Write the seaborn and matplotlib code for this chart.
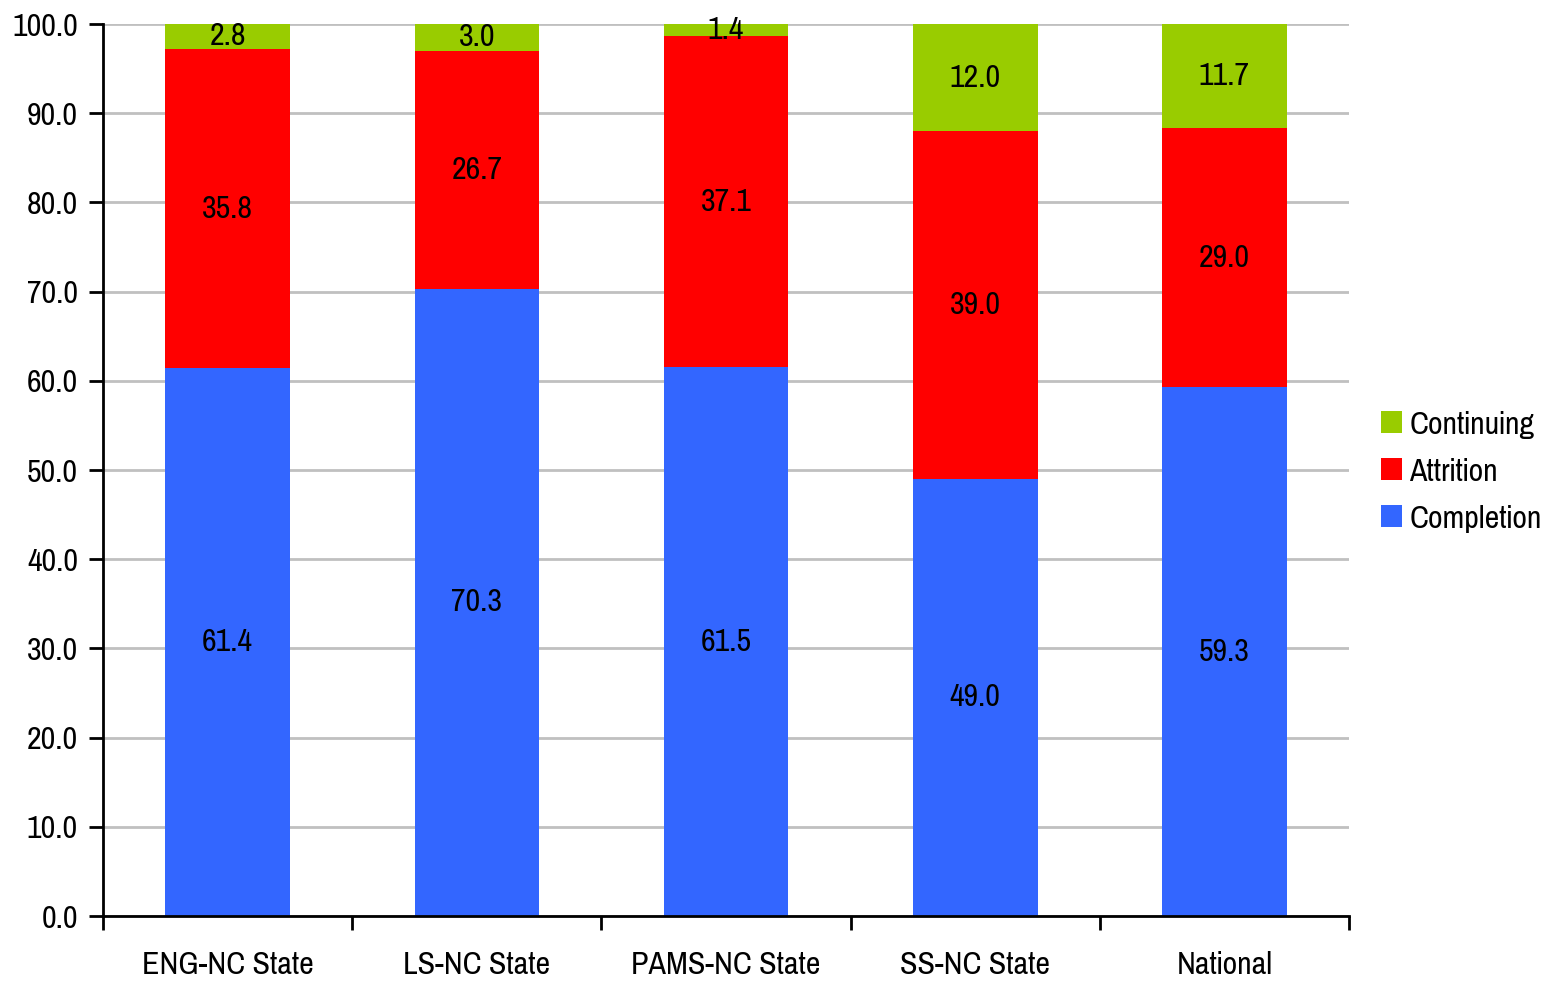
import matplotlib
matplotlib.use("Agg")
import matplotlib.pyplot as plt
from matplotlib.patches import Patch
from matplotlib import font_manager
import numpy as np
import seaborn as sns

categories = ["ENG-NC State", "LS-NC State", "PAMS-NC State", "SS-NC State", "National"]
completion = [61.4, 70.3, 61.5, 49.0, 59.3]
attrition = [35.8, 26.7, 37.1, 39.0, 29.0]
continuing = [2.8, 3.0, 1.4, 12.0, 11.7]
series_names = ["Completion", "Attrition", "Continuing"]
y_ticks = [0, 10, 20, 30, 40, 50, 60, 70, 80, 90, 100]

colors = {"Completion": "#3366FF", "Attrition": "#FF0000", "Continuing": "#99CC00"}

sns.set_theme(style="white")

# pick a narrow sans-serif face when one is installed
preferred = ["Liberation Sans Narrow", "Arial Narrow", "Nimbus Sans Narrow", "Pragati Narrow",
             "Archivo Narrow", "Roboto Condensed", "PT Sans Narrow", "IBM Plex Sans Condensed",
             "Liberation Sans"]
available = {f.name for f in font_manager.fontManager.ttflist}
chosen = [f for f in preferred if f in available][:1]
plt.rcParams["font.family"] = chosen + ["DejaVu Sans"]
plt.rcParams["text.color"] = "black"
plt.rcParams["xtick.color"] = "black"
plt.rcParams["ytick.color"] = "black"

FS = 25

fig = plt.figure(figsize=(15.49, 9.82), dpi=100)
ax = fig.add_axes([103 / 1549, 1 - 916 / 982, (1349 - 103) / 1549, (916 - 24) / 982])

series = {"Completion": completion, "Attrition": attrition, "Continuing": continuing}
bottom = np.zeros(len(categories))
for name in series_names:
    vals = np.array(series[name])
    sns.barplot(x=categories, y=vals, bottom=bottom, color=colors[name],
                width=0.5, saturation=1, ax=ax, zorder=3, linewidth=0)
    container = ax.containers[-1]
    ax.bar_label(container, labels=[f"{v:.1f}" for v in vals], label_type="center",
                 fontsize=FS, color="black", zorder=4)
    bottom = bottom + vals

ax.set_xlim(-0.5, len(categories) - 0.5)
ax.set_ylim(0, 100)
ax.set_yticks(y_ticks)
ax.set_yticklabels([f"{t:.1f}" for t in y_ticks], fontsize=FS)
ax.yaxis.grid(True, color="#C0C0C0", linewidth=2, zorder=0)
ax.xaxis.grid(False)
ax.set_axisbelow(True)

ax.set_xticks(range(len(categories)))
ax.set_xticklabels(categories, fontsize=FS)
ax.set_xticks(np.arange(-0.5, len(categories)), minor=True)
ax.tick_params(axis="x", which="major", length=0, pad=25, bottom=True, labelcolor="black")
ax.tick_params(axis="x", which="minor", length=10, width=2, color="black",
               direction="out", bottom=True)
ax.tick_params(axis="y", length=10, width=2, color="black", direction="out", pad=8,
               left=True, labelcolor="black")
ax.set_xlabel("")
ax.set_ylabel("")

for side in ["top", "right"]:
    ax.spines[side].set_visible(False)
for side in ["left", "bottom"]:
    ax.spines[side].set_visible(True)
    ax.spines[side].set_color("black")
    ax.spines[side].set_linewidth(2)
    ax.spines[side].set_zorder(5)

handles = [Patch(facecolor=colors[n], edgecolor="none") for n in reversed(series_names)]
fig.legend(handles, list(reversed(series_names)), loc="center left",
           bbox_to_anchor=(1381 / 1549, 1 - 472 / 982), frameon=False, fontsize=FS,
           borderpad=0, borderaxespad=0,
           handlelength=0.6, handleheight=0.6, handletextpad=0.22, labelspacing=0.55,
           labelcolor="black")

fig.savefig("out.png", dpi=100)
